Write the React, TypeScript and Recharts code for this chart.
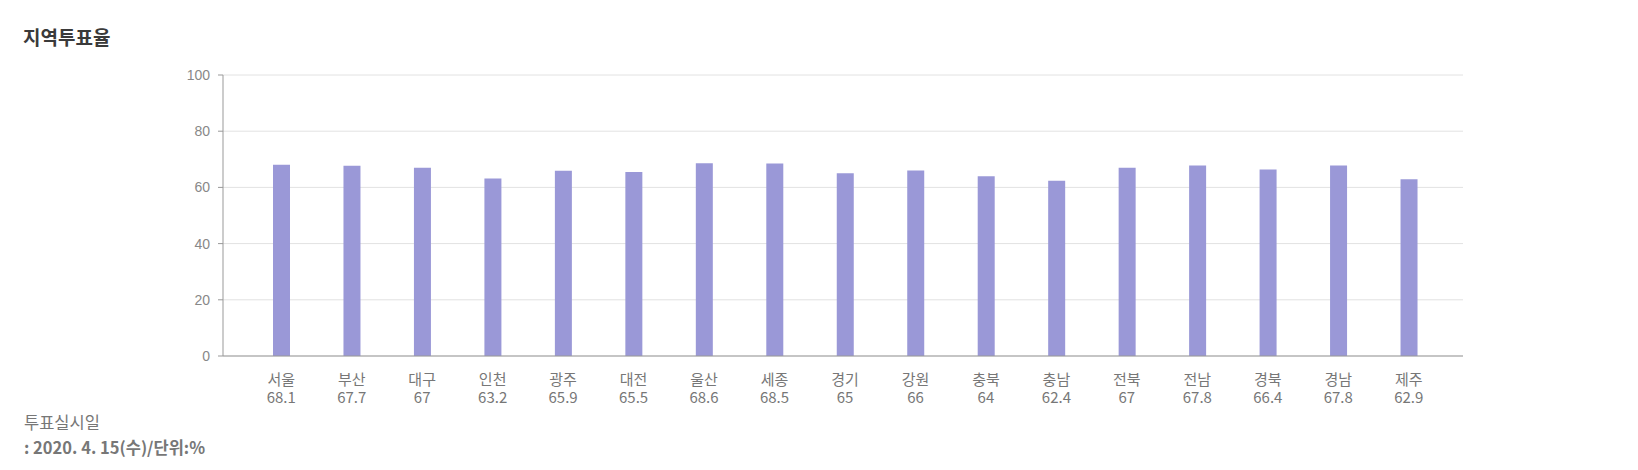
import React from 'react';
import { BarChart, Bar, XAxis, YAxis, CartesianGrid } from 'recharts';

const regions = ['서울', '부산', '대구', '인천', '광주', '대전', '울산', '세종', '경기', '강원', '충북', '충남', '전북', '전남', '경북', '경남', '제주'];
const turnout = [68.1, 67.7, 67, 63.2, 65.9, 65.5, 68.6, 68.5, 65, 66, 64, 62.4, 67, 67.8, 66.4, 67.8, 62.9];
const yTicks = [0, 20, 40, 60, 80, 100];

const title = '지역투표율';
const footLine1 = '투표실시일';
const footLine2 = ': 2020. 4. 15(수)/단위:%';

const data = regions.map((r, i) => ({ region: r, value: turnout[i] }));

const FONT = '"Noto Sans CJK KR", "Noto Sans", sans-serif';

const XTick = (props: any) => {
  const { x, y, payload, index } = props;
  const v = turnout[index];
  return (
    <g>
      <text x={x} y={y + 21} textAnchor="middle" fill="#777" fontSize={15} fontFamily={FONT}>
        {payload.value}
      </text>
      <text x={x} y={y + 39} textAnchor="middle" fill="#777" fontSize={15} fontFamily={FONT}>
        {String(v)}
      </text>
    </g>
  );
};

export default function App() {
  return (
    <div style={{ position: 'absolute', left: 0, top: 0, width: 1638, height: 470, background: '#fff', fontFamily: FONT }}>
      <div style={{ position: 'absolute', left: 23, top: 25, fontSize: 19, fontWeight: 700, color: '#3a3a3a', lineHeight: '24px' }}>
        {title}
      </div>
      <div style={{ position: 'absolute', left: 0, top: 0 }}>
        <BarChart width={1638} height={470} data={data} margin={{ top: 75, right: 175, bottom: 64, left: 0 }}>
          <CartesianGrid vertical={false} stroke="#e2e2e2" />
          <XAxis
            dataKey="region"
            axisLine={{ stroke: '#999' }}
            tickLine={false}
            interval={0}
            height={50}
            padding={{ left: 23, right: 19 }}
            tick={<XTick />}
          />
          <YAxis
            domain={[0, 100]}
            ticks={yTicks}
            width={223}
            axisLine={{ stroke: '#999' }}
            tickLine={{ stroke: '#999' }}
            tickSize={5}
            tickMargin={8}
            tick={{ fill: '#888', fontSize: 14, fontFamily: '"Liberation Sans", Arial, sans-serif' }}
          />
          <Bar dataKey="value" fill="#9a98d7" barSize={17} isAnimationActive={false} />
        </BarChart>
      </div>
      <div style={{ position: 'absolute', left: 24, top: 410, fontSize: 16.5, color: '#777', lineHeight: '25px' }}>
        <div>{footLine1}</div>
        <div style={{ fontWeight: 700 }}>{footLine2}</div>
      </div>
    </div>
  );
}
